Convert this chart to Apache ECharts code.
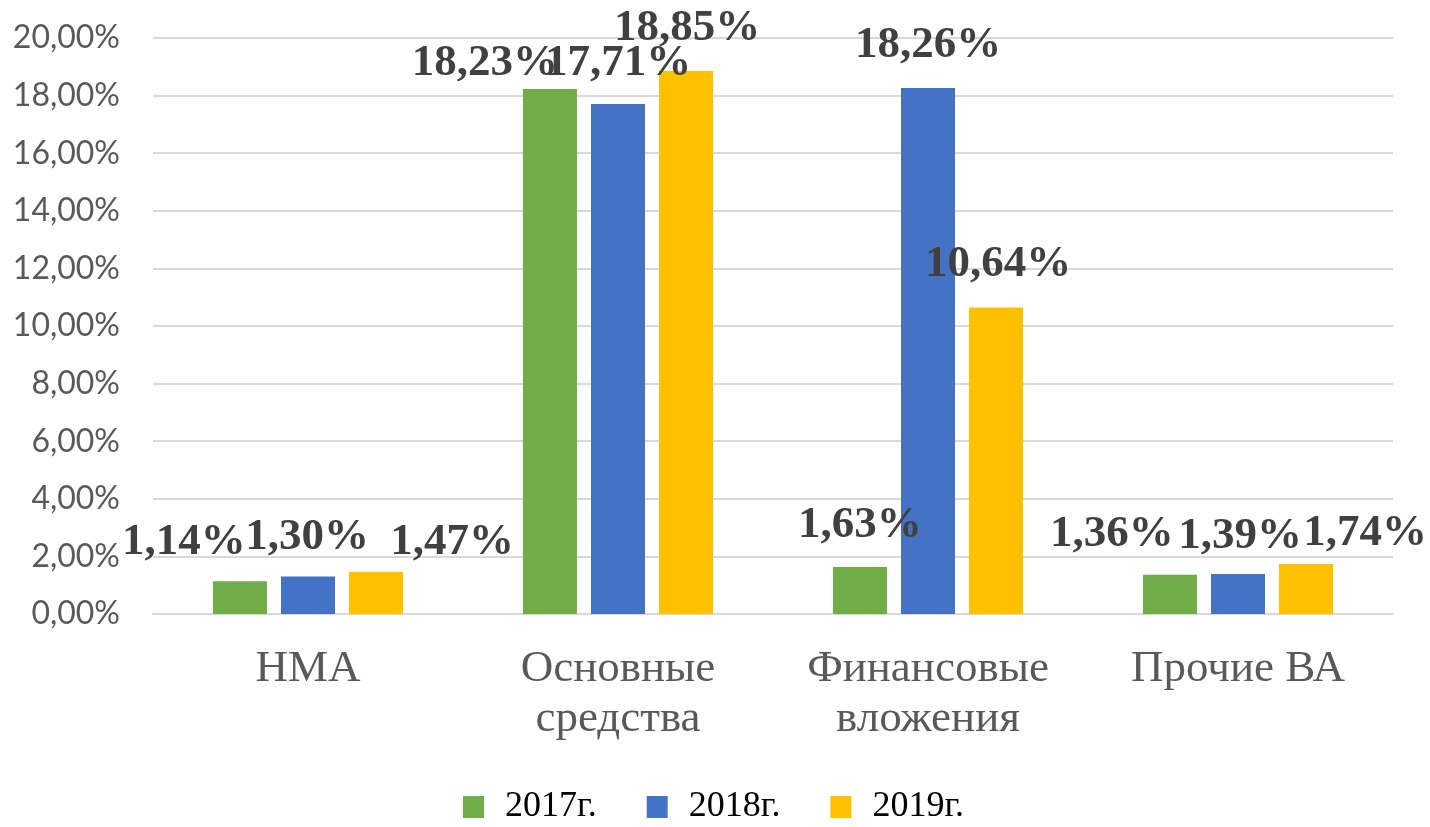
<!DOCTYPE html>
<html>
<head>
<meta charset="utf-8">
<title>chart</title>
<script src="https://cdn.jsdelivr.net/npm/echarts@6/dist/echarts.min.js"></script>
<style>
    html, body { margin: 0; padding: 0; background: #fff; }
    #mychart { width: 1430px; height: 827px; }
</style>
</head>
<body>
<div id="mychart"></div>
<script>
// данные с картинки
var categories = ['НМА', 'Основные\nсредства', 'Финансовые\nвложения', 'Прочие ВА']
var seriesNames = ['2017г.', '2018г.', '2019г.']
var values2017 = [1.14, 18.23, 1.63, 1.36]
var values2018 = [1.30, 17.71, 18.26, 1.39]
var values2019 = [1.47, 18.85, 10.64, 1.74]
var yTicks = { min: 0, max: 20, interval: 2 }

var colors = ['#70AD47', '#4472C4', '#FFC000']

// сдвиги подписей, как в оригинале (подписи стоят не ровно над столбцами)
var labelShift = [
    [[-56, -16], [-65, -3], [0, -19], [-58, -17]],
    [[-1, -16], [0, -18], [0, -20], [2, -15]],
    [[76, -6], [1, -20], [2, -20], [59, -8]]
]

function fmt(v) {
    return v.toFixed(2).replace('.', ',') + '%'
}

function makeSeries(idx, values) {
    var data = []
    for (var i = 0; i < values.length; i++) {
        data.push({
            value: values[i],
            label: { offset: labelShift[idx][i] }
        })
    }
    return {
        name: seriesNames[idx],
        type: 'bar',
        data: data,
        barWidth: 54,
        barGap: '26%',
        itemStyle: { color: colors[idx] },
        label: {
            show: true,
            position: 'top',
            distance: 0,
            formatter: function (p) { return fmt(p.value) },
            fontFamily: 'Liberation Serif',
            fontWeight: 'bold',
            fontSize: 45,
            lineHeight: 46,
            color: '#404040'
        }
    }
}

var myChart = echarts.init(document.getElementById('mychart'))

var option = {
    animation: false,
    color: colors,
    grid: {
        left: 153,
        right: 37,
        top: 38,
        bottom: 213,
        containLabel: false
    },
    legend: {
        data: seriesNames,
        left: 458,
        top: 784,
        icon: 'rect',
        itemWidth: 21,
        itemHeight: 22,
        itemGap: 50,
        textStyle: {
            fontFamily: 'Liberation Serif',
            fontSize: 36,
            color: '#000',
            padding: [0, 0, 0, 16]
        }
    },
    xAxis: {
        type: 'category',
        data: categories,
        axisTick: { show: false },
        axisLine: {
            show: true,
            lineStyle: { color: '#d9d9d9', width: 2 }
        },
        axisLabel: {
            fontFamily: 'Liberation Serif',
            fontSize: 45,
            lineHeight: 50,
            color: '#595959',
            margin: 30,
            interval: 0
        }
    },
    yAxis: {
        type: 'value',
        min: yTicks.min,
        max: yTicks.max,
        interval: yTicks.interval,
        axisLine: { show: false },
        axisTick: { show: false },
        splitLine: {
            lineStyle: { color: '#d9d9d9', width: 2 }
        },
        axisLabel: {
            fontFamily: 'Lato',
            fontSize: 32,
            color: '#595959',
            margin: 33,
            formatter: function (v) { return fmt(v) }
        }
    },
    series: [
        makeSeries(0, values2017),
        makeSeries(1, values2018),
        makeSeries(2, values2019)
    ]
}

myChart.setOption(option)
</script>
</body>
</html>
